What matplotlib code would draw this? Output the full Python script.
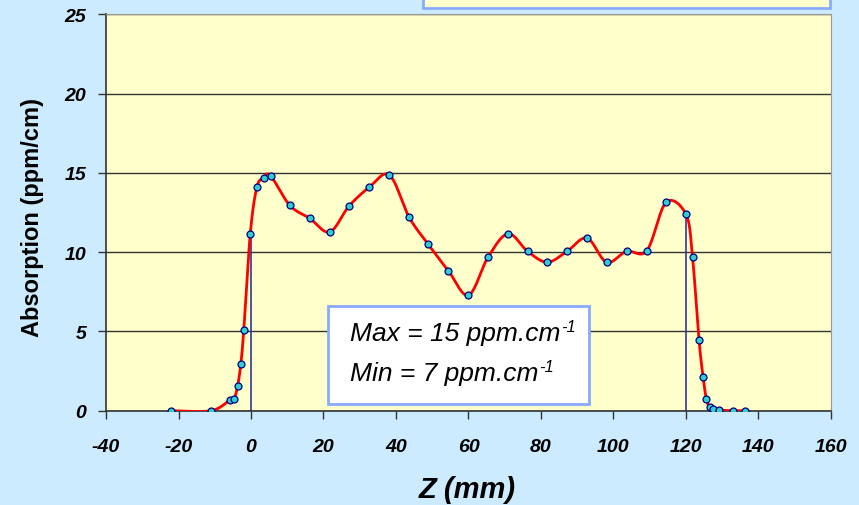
import numpy as np
import matplotlib
matplotlib.use("Agg")
import matplotlib.pyplot as plt
from matplotlib.patches import Rectangle

# measured profile: position along the sample (mm) and absorption (ppm/cm)
z_mm = [-22.0, -11.0, -5.8, -4.7, -3.7, -2.8, -2.0, -0.2, 1.6, 3.5, 5.4,
        10.7, 16.2, 21.7, 27.0, 32.6, 38.2, 43.6, 48.9, 54.4, 60.0, 65.4,
        70.9, 76.3, 81.7, 87.2, 92.7, 98.1, 103.6, 109.2, 114.5, 120.0,
        121.8, 123.6, 124.7, 125.6, 126.5, 127.4, 129.1, 132.9, 136.4]
absorption = [0.0, 0.0, 0.67, 0.74, 1.54, 2.96, 5.09, 11.16, 14.08, 14.69, 14.82,
              12.95, 12.13, 11.27, 12.89, 14.09, 14.86, 12.21, 10.49, 8.84, 7.28, 9.69,
              11.16, 10.05, 9.36, 10.05, 10.89, 9.36, 10.05, 10.09, 13.14, 12.38,
              9.69, 4.44, 2.15, 0.76, 0.21, 0.13, 0.04, 0.0, 0.0]

# sample edges marked with vertical lines
edge_z = [0, 120]
edge_top = [11.16, 12.38]

x_ticks = list(range(-40, 161, 20))
y_ticks = list(range(0, 26, 5))

box_lines = ['Max = 15 ppm.cm', 'Min = 7 ppm.cm']

plt.rcParams['font.family'] = ['Liberation Sans', 'DejaVu Sans']
plt.rcParams['axes.unicode_minus'] = False


def smooth(x, y, sx, sy, n=20):
    # excel-like smoothed line (catmull-rom on screen-scaled points)
    p = np.column_stack([np.asarray(x) * sx, np.asarray(y) * sy])
    p = np.vstack([p[0], p, p[-1]])
    out = []
    for i in range(1, len(p) - 2):
        p0, p1, p2, p3 = p[i - 1], p[i], p[i + 1], p[i + 2]
        t = np.linspace(0, 1, n, endpoint=False)[:, None]
        seg = 0.5 * ((2 * p1) + (-p0 + p2) * t + (2 * p0 - 5 * p1 + 4 * p2 - p3) * t ** 2
                     + (-p0 + 3 * p1 - 3 * p2 + p3) * t ** 3)
        out.append(seg)
    out.append(p[-2][None, :])
    out = np.vstack(out)
    return out[:, 0] / sx, out[:, 1] / sy


fig = plt.figure(figsize=(8.59, 5.06), dpi=100)
fig.patch.set_facecolor('#CCEBFF')
ax = fig.add_axes([0.1234, 0.1864, 0.8440, 0.7834])
ax.set_facecolor('#FFFFCC')

ax.set_xlim(-40, 160)
ax.set_ylim(0, 25)
ax.set_xticks(x_ticks)
ax.set_yticks(y_ticks)
ax.yaxis.grid(True, color='#333333', linewidth=1.0)
ax.set_axisbelow(True)

for zx, top in zip(edge_z, edge_top):
    ax.plot([zx, zx], [0, top], color='#333399', linewidth=1.2, zorder=2)

sx_, sy_ = smooth(z_mm, absorption, 3.625, 15.86)
ax.plot(sx_, sy_, color='#FF0000', linewidth=2.0, zorder=3)
ax.plot(z_mm, absorption, linestyle='none', marker='o', markersize=5,
        markerfacecolor='#33CCCC', markeredgecolor='#000080', markeredgewidth=0.9, zorder=4)

for side in ['top', 'right']:
    ax.spines[side].set_color('#999999')
for side in ['left', 'bottom']:
    ax.spines[side].set_color('#333333')
    ax.spines[side].set_linewidth(1.2)

ax.tick_params(direction='out', length=6, width=1, color='#333333')
ax.tick_params(axis='y', pad=8)
ax.tick_params(axis='x', pad=14)
for lab in ax.get_xticklabels() + ax.get_yticklabels():
    lab.set_fontsize(14)
    lab.set_fontweight('bold')
    lab.set_fontstyle('italic')

ax.set_xlabel('Z (mm)', fontsize=21, fontweight='bold', fontstyle='italic', va='center')
ax.xaxis.set_label_coords(0.498, -0.197)
ax.set_ylabel('Absorption (ppm/cm)', fontsize=17, fontweight='bold', va='center')
ax.yaxis.set_label_coords(-0.102, 0.49)

# annotation box with extreme values
W, H = 859.0, 506.0
fig.patches.append(Rectangle((328 / W, 1 - 405 / H), (589 - 328) / W, (405 - 307) / H,
                             transform=fig.transFigure, facecolor='white',
                             edgecolor='#88AAFF', linewidth=2, zorder=5))
renderer = fig.canvas.get_renderer()
for line, ypx in zip(box_lines, [334, 374]):
    t = fig.text(350 / W, 1 - ypx / H, line, fontsize=19, fontstyle='italic',
                 va='center', ha='left', zorder=6)
    bb = t.get_window_extent(renderer)
    fig.text((bb.x1 + 1) / W, (bb.y1 - 6) / H, '-1', fontsize=12, fontstyle='italic',
             va='center', ha='left', zorder=6)

# box cut off at the top edge
fig.patches.append(Rectangle((423 / W, 1 - 9 / H), (830 - 423) / W, 30 / H,
                             transform=fig.transFigure, facecolor='#FFFFCC',
                             edgecolor='#88AAFF', linewidth=2, zorder=5))

fig.savefig('out.png', dpi=100, facecolor=fig.get_facecolor())
